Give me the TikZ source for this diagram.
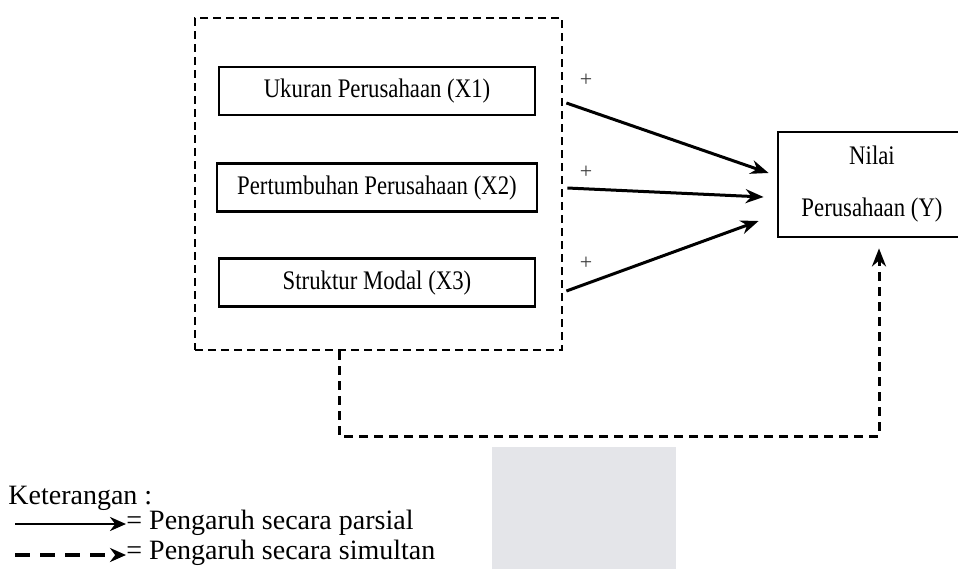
\documentclass[tikz,border=0pt]{standalone}
\usepackage{fontspec}
\setmainfont{Liberation Serif}
\usetikzlibrary{arrows.meta, positioning, calc}
\definecolor{wmark}{RGB}{228,229,233}
\definecolor{signgray}{RGB}{60,60,60}
\newcommand{\narrowtext}[1]{\scalebox{0.85}[1]{#1}}

\begin{document}
\begin{tikzpicture}[
    x=0.5pt, y=-0.5pt,
    varbox/.style={draw, line width=1.4pt, minimum width=158pt, minimum height=24pt, inner sep=0pt, font=\fontsize{13.4}{15}\selectfont},
    ybox/.style={draw, line width=1.4pt, minimum width=94pt, minimum height=52.5pt, inner sep=0pt, align=center, font=\fontsize{13.4}{26}\selectfont},
    groupbox/.style={draw, line width=1.4pt, dash pattern=on 4pt off 2.5pt, minimum width=183.5pt, minimum height=166pt},
    partial/.style={-{Stealth[length=9pt, width=7pt]}, line width=1.5pt},
    simul/.style={-{Stealth[length=9pt, width=7pt]}, line width=1.5pt, dash pattern=on 4.5pt off 3pt},
    sign/.style={font=\fontsize{11}{12}\selectfont, text=signgray, inner sep=0pt},
    legtext/.style={anchor=west, inner sep=0pt, font=\fontsize{14}{16}\selectfont},
    node distance=23pt
]
    \useasboundingbox (0,0) rectangle (958,569);

    % watermark patch in the background
    \fill[wmark] (492,447) rectangle (676,569);

    % independent variables inside the dashed group
    \node[groupbox] (grp) at (378.5,184) {};
    \node[varbox] (x1) at (377,91) {\narrowtext{Ukuran Perusahaan (X1)}};
    \node[varbox, minimum width=160pt, below=of x1] (x2) {\narrowtext{Pertumbuhan Perusahaan (X2)}};
    \node[varbox, below=22pt of x2] (x3) {\narrowtext{Struktur Modal (X3)}};

    % dependent variable
    \node[ybox] (y) at (872,184.5) {\narrowtext{Nilai}\\\narrowtext{Perusahaan (Y)}};

    % partial arrows - start just outside the group, end before Y
    \coordinate (s1) at ([shift={(3,-81)}]grp.east);
    \coordinate (s2) at ([shift={(4,4)}]grp.east);
    \coordinate (s3) at ([shift={(3,107)}]grp.east);
    \coordinate (t1) at ([shift={(-8,-11.5)}]y.west);
    \coordinate (t2) at ([shift={(-13,12.5)}]y.west);
    \coordinate (t3) at ([shift={(-18,36.5)}]y.west);
    \draw[partial] (s1) -- (t1);
    \draw[partial] (s2) -- (t2);
    \draw[partial] (s3) -- (t3);

    % signs
    \node[sign] (p1) at (586,80) {+};
    \node[sign] (p2) at (586,172) {+};
    \node[sign] (p3) at (586,263) {+};

    % simultaneous effect
    \coordinate (r1) at (339,436);
    \coordinate (r2) at (879,436);
    \draw[simul] (grp.south -| r1) -- (r1) -- (r2) -- ([yshift=-5pt]y.south -| r2);

    % legend
    \node[legtext] (ket) at (8,498) {Keterangan :};
    \node[legtext] (lg1) at (126,523) {= Pengaruh secara parsial};
    \node[legtext] (lg2) at (126,553) {= Pengaruh secara simultan};
    \coordinate (l1) at (15,524);
    \coordinate (l2) at (15,555);
    \draw[-{Stealth[length=8pt, width=7pt]}, line width=1.3pt] (l1) -- (l1 -| lg1.west);
    \draw[-{Stealth[length=8pt, width=7pt]}, line width=2pt, dash pattern=on 7.5pt off 5pt] (l2) -- (l2 -| lg2.west);
\end{tikzpicture}
\end{document}
